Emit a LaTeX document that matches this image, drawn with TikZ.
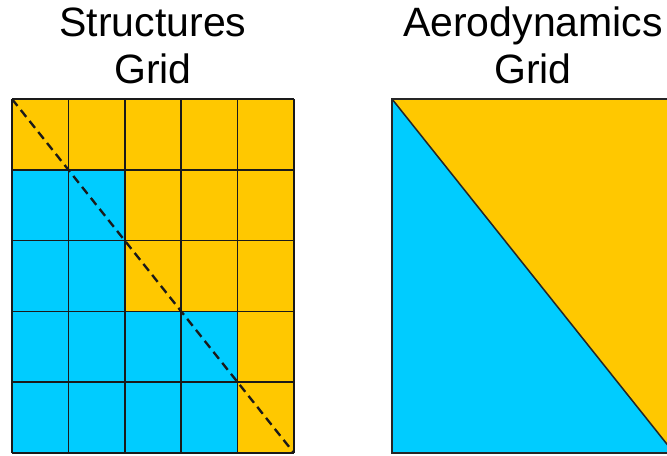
\documentclass[tikz,border=0pt]{standalone}
\usepackage{fontspec}
\setmainfont{Liberation Sans}
\definecolor{gridorange}{HTML}{FFC800}
\definecolor{gridblue}{HTML}{00CCFF}
\definecolor{gridline}{HTML}{1A1A1A}
\begin{document}
\begin{tikzpicture}[title/.style={anchor=base,font=\fontsize{35}{41}\selectfont}]
\clip (0,0) rectangle (20.01,13.65);
\node[title] (st) at (4.59,12.55) {Structures};
\node[title] (sg) at (4.59,11.13) {Grid};
\node[title] (at) at (15.99,12.55) {Aerodynamics};
\node[title] (ag) at (15.99,11.13) {Grid};
% structures grid, 5x5 cells
\begin{scope}[shift={(0.36,0.06)},x=1.692cm,y=2.124cm]
\foreach \r in {1,...,5}
  \foreach \c in {1,...,5}{
    \pgfmathtruncatemacro{\blue}{(\c<\r) || (\c==\r && isodd(\r)==0)}
    \ifnum\blue=1
      \fill[gridblue] (\c-1,5-\r) rectangle (\c,6-\r);
    \else
      \fill[gridorange] (\c-1,5-\r) rectangle (\c,6-\r);
    \fi
  }
\foreach \i in {0,...,5}{
  \draw[gridline,line width=1.5pt] (\i,0) -- (\i,5);
  \draw[gridline,line width=1.5pt] (0,\i) -- (5,\i);
}
\draw[gridline,line width=2pt,dash pattern=on 7.5pt off 4.5pt] (0,5) -- (5,0);
\end{scope}
% aerodynamics grid
\begin{scope}[shift={(11.76,0.06)},x=8.46cm,y=10.62cm]
\fill[gridorange] (0,1) -- (1,1) -- (1,0) -- cycle;
\fill[gridblue] (0,1) -- (1,0) -- (0,0) -- cycle;
\draw[black!85,line width=1.3pt] (0,1) -- (1,0);
\draw[black!85,line width=2.2pt] (0,0) rectangle (1,1);
\end{scope}
\end{tikzpicture}
\end{document}
